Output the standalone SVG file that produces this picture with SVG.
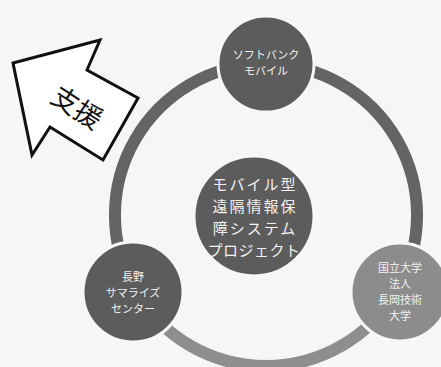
<svg xmlns="http://www.w3.org/2000/svg" width="441" height="367" viewBox="0 0 441 367">
<style>
.t{font-family:"Noto Sans CJK JP","Noto Sans CJK SC",sans-serif;fill:#f2f2f2;text-anchor:middle;dominant-baseline:central}
.s{font-size:11px}
.m{font-size:15px;letter-spacing:2px}
.node{stroke:#f7f7f7;stroke-width:3}
.ring{fill:none;stroke-width:12}
</style>
<rect width="441" height="367" fill="#f6f6f6"/>
<g id="connectors">
<path class="ring" stroke="#646464" d="M266,64 A151,151 0 0 1 396.8,290.5"/>
<path class="ring" stroke="#8e8e8e" d="M396.8,290.5 A151,151 0 0 1 135.2,290.5"/>
<path class="ring" stroke="#646464" d="M135.2,290.5 A151,151 0 0 1 266,64"/>
</g>
<g id="support-arrow">
<polygon points="13,63 100,40 87,70 138,98 103,160 50,127 32,155" fill="#fff" stroke="#111" stroke-width="3" stroke-linejoin="miter"/>
<text x="78" y="106" transform="rotate(33 78 106)" style="font-family:'Noto Sans CJK JP',sans-serif;font-size:27px;fill:#111;text-anchor:middle;dominant-baseline:central">支援</text>
</g>
<g id="softbank">
<circle class="node" cx="266" cy="64" r="48" fill="#5c5c5c"/>
<text class="t s" x="266" y="54">ソフトバンク</text>
<text class="t s" x="266" y="70">モバイル</text>
</g>
<g id="project">
<circle class="node" cx="254" cy="216" r="60" fill="#5c5c5c"/>
<text class="t m" x="255" y="183">モバイル型</text>
<text class="t m" x="255" y="205">遠隔情報保</text>
<text class="t m" x="255" y="227">障システム</text>
<text class="t m" x="254" y="249" style="letter-spacing:0.5px">プロジェクト</text>
</g>
<g id="nagano">
<circle class="node" cx="133" cy="292" r="50" fill="#5c5c5c"/>
<text class="t s" x="133" y="276">長野</text>
<text class="t s" x="133" y="292">サマライズ</text>
<text class="t s" x="133" y="308">センター</text>
</g>
<g id="nagaoka">
<circle class="node" cx="400" cy="292" r="49" fill="#8c8c8c"/>
<text class="t s" x="400" y="267">国立大学</text>
<text class="t s" x="400" y="283">法人</text>
<text class="t s" x="400" y="299">長岡技術</text>
<text class="t s" x="400" y="315">大学</text>
</g>
</svg>
